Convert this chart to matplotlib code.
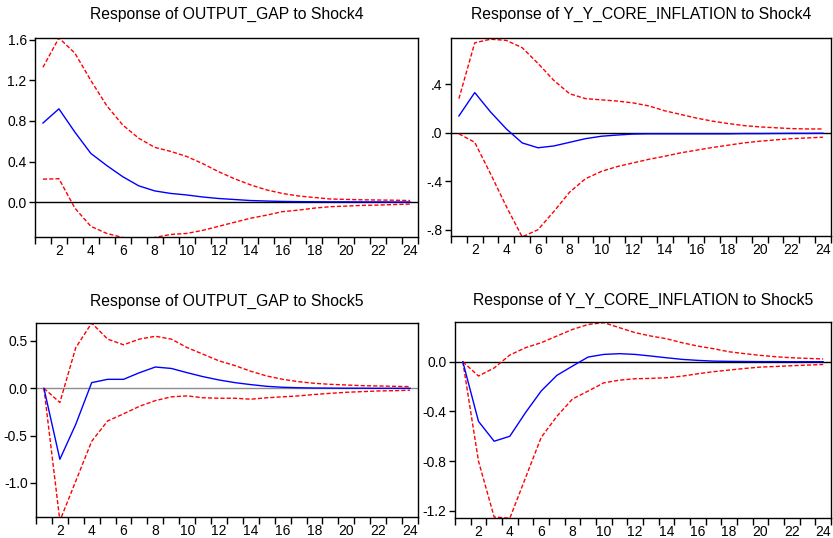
import numpy as np
import matplotlib
matplotlib.use('Agg')
import matplotlib.pyplot as plt

# impulse response periods
periods = np.arange(1, 25)

# Response of OUTPUT_GAP to Shock4
gap4_mid = [0.78, 0.92, 0.69, 0.48, 0.36, 0.25, 0.16, 0.11, 0.085, 0.07, 0.05, 0.035,
            0.025, 0.015, 0.01, 0.006, 0.004, 0.003, 0.002, 0.002, 0.001, 0.001, 0.0, 0.0]
gap4_up = [1.33, 1.62, 1.47, 1.20, 0.95, 0.76, 0.63, 0.54, 0.50, 0.45, 0.38, 0.30,
           0.23, 0.17, 0.12, 0.085, 0.06, 0.045, 0.03, 0.026, 0.022, 0.02, 0.018, 0.015]
gap4_lo = [0.226, 0.23, -0.06, -0.24, -0.31, -0.35, -0.37, -0.35, -0.32, -0.31, -0.28, -0.24,
           -0.20, -0.16, -0.13, -0.095, -0.08, -0.06, -0.046, -0.04, -0.033, -0.03, -0.025, -0.02]

# Response of Y_Y_CORE_INFLATION to Shock4
inf4_mid = [0.137, 0.33, 0.17, 0.03, -0.085, -0.125, -0.11, -0.08, -0.05, -0.03, -0.02, -0.012,
            -0.01, -0.01, -0.01, -0.01, -0.01, -0.01, -0.008, -0.008, -0.007, -0.006, -0.006, -0.005]
inf4_up = [0.28, 0.74, 0.77, 0.76, 0.70, 0.57, 0.43, 0.32, 0.28, 0.27, 0.26, 0.245,
           0.22, 0.18, 0.15, 0.12, 0.095, 0.075, 0.058, 0.047, 0.04, 0.033, 0.03, 0.03]
inf4_lo = [-0.01, -0.08, -0.34, -0.61, -0.86, -0.80, -0.65, -0.49, -0.38, -0.32, -0.28, -0.25,
           -0.22, -0.195, -0.167, -0.145, -0.123, -0.104, -0.085, -0.071, -0.06, -0.05, -0.044, -0.038]

# Response of OUTPUT_GAP to Shock5
gap5_mid = [0.0, -0.75, -0.38, 0.06, 0.095, 0.095, 0.165, 0.225, 0.21, 0.165, 0.123, 0.088,
            0.06, 0.039, 0.021, 0.011, 0.006, 0.003, 0.002, 0.001, 0.001, 0.0, 0.0, 0.0]
gap5_up = [0.0, -0.15, 0.43, 0.69, 0.52, 0.46, 0.52, 0.55, 0.52, 0.43, 0.36, 0.29,
           0.24, 0.18, 0.13, 0.095, 0.07, 0.053, 0.042, 0.035, 0.028, 0.025, 0.021, 0.018]
gap5_lo = [0.0, -1.40, -0.98, -0.56, -0.345, -0.27, -0.19, -0.13, -0.09, -0.08, -0.10, -0.105,
           -0.105, -0.115, -0.10, -0.09, -0.08, -0.065, -0.053, -0.042, -0.035, -0.028, -0.025, -0.02]

# Response of Y_Y_CORE_INFLATION to Shock5
inf5_mid = [0.0, -0.48, -0.64, -0.60, -0.41, -0.236, -0.11, -0.035, 0.038, 0.059, 0.065, 0.059,
            0.046, 0.032, 0.019, 0.011, 0.005, 0.003, 0.002, 0.001, 0.001, 0.0, 0.0, 0.0]
inf5_up = [0.0, -0.115, -0.05, 0.054, 0.113, 0.153, 0.207, 0.26, 0.30, 0.315, 0.274, 0.234,
           0.207, 0.185, 0.153, 0.126, 0.105, 0.08, 0.065, 0.051, 0.04, 0.032, 0.027, 0.022]
inf5_lo = [0.0, -0.80, -1.25, -1.26, -0.935, -0.61, -0.44, -0.30, -0.236, -0.17, -0.148, -0.137,
           -0.134, -0.129, -0.116, -0.097, -0.08, -0.067, -0.054, -0.043, -0.038, -0.032, -0.027, -0.022]

titles = ['Response of OUTPUT_GAP to Shock4', 'Response of Y_Y_CORE_INFLATION to Shock4',
          'Response of OUTPUT_GAP to Shock5', 'Response of Y_Y_CORE_INFLATION to Shock5']

# y tick values and the labels eviews printed for them
yticks = [[0.0, 0.4, 0.8, 1.2, 1.6], [-0.8, -0.4, 0.0, 0.4],
          [-1.0, -0.5, 0.0, 0.5], [-1.2, -0.8, -0.4, 0.0]]
ytick_labels = [['0.0', '0.4', '0.8', '1.2', '1.6'], ['-.8', '-.4', '.0', '.4'],
                ['-1.0', '-0.5', '0.0', '0.5'], ['-1.2', '-0.8', '-0.4', '0.0']]
ylims = [(-0.345, 1.62), (-0.852, 0.78), (-1.36, 0.69), (-1.258, 0.32)]
xtick_labels = [str(p) for p in range(2, 25, 2)]


def main():
    plt.rcParams['font.family'] = ['Liberation Sans', 'DejaVu Sans']
    fig = plt.figure(figsize=(8.33, 5.38), dpi=100)

    boxes = [[0.042, 0.5595, 0.4598, 0.370],
             [0.5414, 0.5614, 0.456, 0.368],
             [0.0432, 0.039, 0.4586, 0.3606],
             [0.5462, 0.0372, 0.4514, 0.3643]]
    series = [(gap4_mid, gap4_up, gap4_lo), (inf4_mid, inf4_up, inf4_lo),
              (gap5_mid, gap5_up, gap5_lo), (inf5_mid, inf5_up, inf5_lo)]
    zero_colors = ['black', 'black', '#8c8c8c', 'black']

    for i in range(4):
        ax = fig.add_axes(boxes[i])
        mid, up, lo = series[i]
        ax.axhline(0, color=zero_colors[i], lw=1.0, zorder=1)
        ax.plot(periods, up, color='#ff0000', lw=1.0, dashes=(3, 1.5), zorder=2)
        ax.plot(periods, lo, color='#ff0000', lw=1.0, dashes=(3, 1.5), zorder=2)
        ax.plot(periods, mid, color='#0000ff', lw=1.0, zorder=3)

        ax.set_xlim(0.5, 24.5)
        ax.set_ylim(*ylims[i])
        # labels centred on periods, tick marks on the period boundaries
        ax.set_xticks(range(2, 25, 2))
        ax.set_xticklabels(xtick_labels)
        ax.set_xticks(np.arange(0.5, 25, 1.0), minor=True)
        ax.tick_params(axis='x', which='major', length=0, pad=5, labelsize=10)
        ax.tick_params(axis='x', which='minor', length=5, direction='out', width=1)
        ax.set_yticks(yticks[i])
        ax.set_yticklabels(ytick_labels[i])
        ax.tick_params(axis='y', length=4, direction='out', width=1, pad=2, labelsize=10)
        for s in ax.spines.values():
            s.set_linewidth(1.0)
            s.set_color('black')
        ax.set_title(titles[i], fontsize=11.3, pad=14 if i < 2 else 12)

    plt.savefig('out.png', dpi=100)


if __name__ == "__main__":
    main()
